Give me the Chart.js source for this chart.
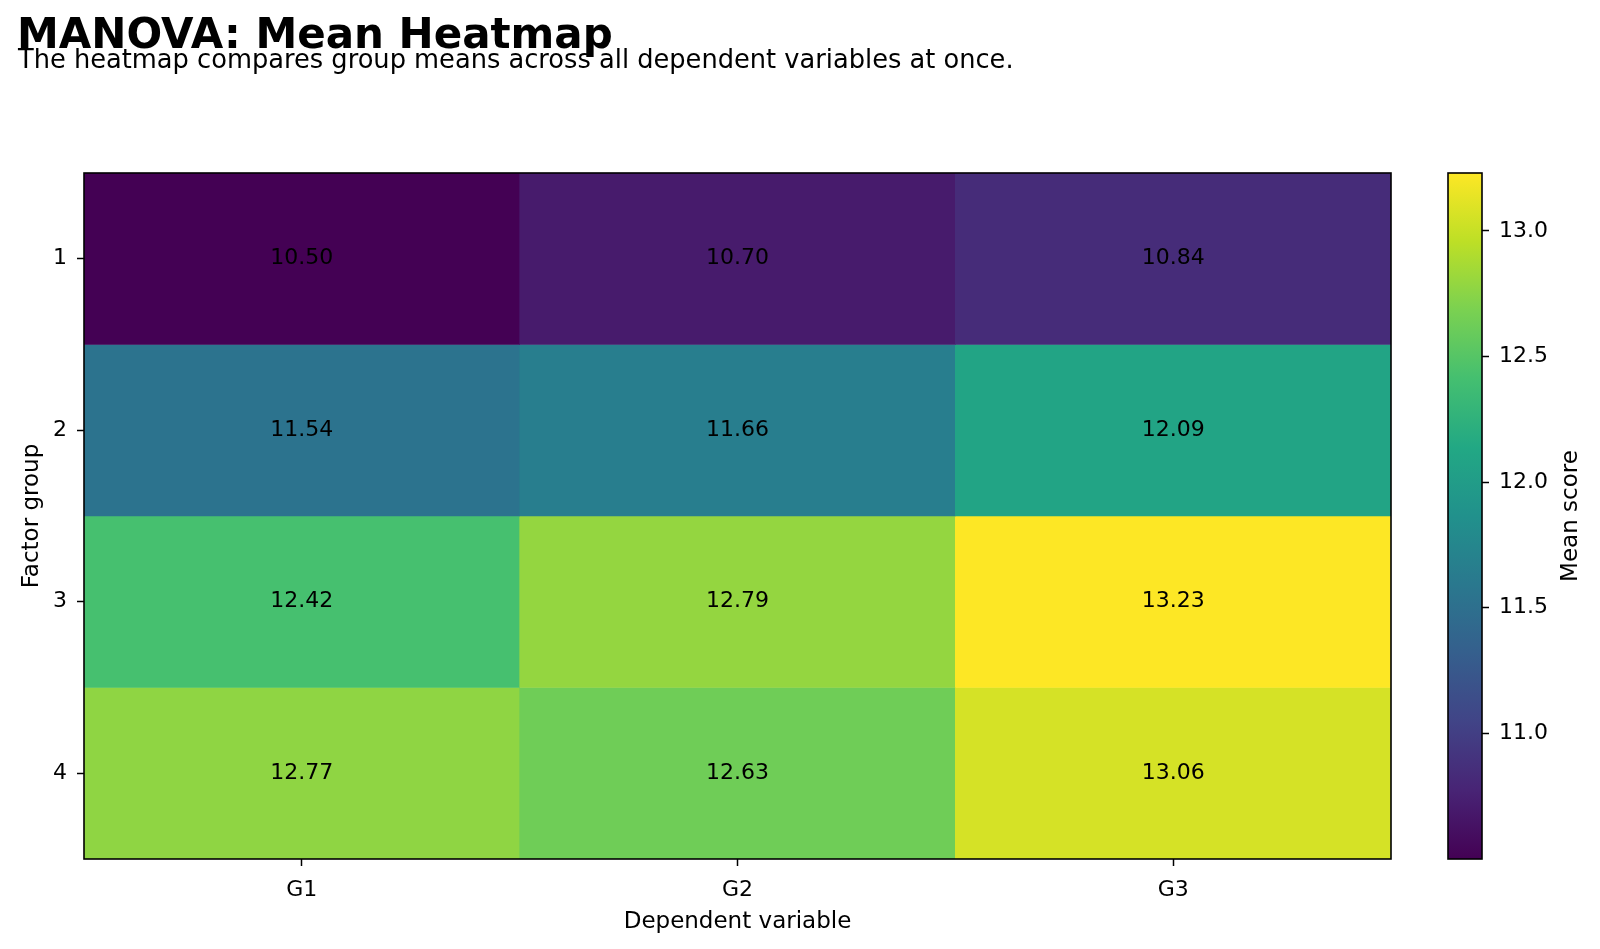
<!DOCTYPE html>
<html>
<head>
<meta charset="utf-8">
<script src="https://cdn.jsdelivr.net/npm/chart.js@4.4.0/dist/chart.umd.min.js"></script>
<style>
  html, body { margin: 0; padding: 0; background: #fff; }
  #wrap { position: relative; width: 1600px; height: 949px; overflow: hidden; }
  #heat { position: absolute; left: 0; top: 0; }
  #cbar { position: absolute; left: 1420px; top: 0; }
</style>
</head>
<body>
<div id="wrap">
  <canvas id="heat" width="1420" height="949"></canvas>
  <canvas id="cbar" width="180" height="949"></canvas>
</div>
<script>
// data
var groups = ['1', '2', '3', '4'];
var variables = ['G1', 'G2', 'G3'];
var meansG1 = [10.50, 11.54, 12.42, 12.77];
var meansG2 = [10.70, 11.66, 12.79, 12.63];
var meansG3 = [10.84, 12.09, 13.23, 13.06];
var cbarTicks = [11.0, 11.5, 12.0, 12.5, 13.0];

var title = 'MANOVA: Mean Heatmap';
var subtitle = 'The heatmap compares group means across all dependent variables at once.';

var means = [meansG1, meansG2, meansG3];
var allVals = [].concat(meansG1, meansG2, meansG3);
var vmin = Math.min.apply(null, allVals);
var vmax = Math.max.apply(null, allVals);

var FONT = '"DejaVu Sans", sans-serif';
Chart.defaults.font.family = FONT;
Chart.defaults.color = '#000';

// viridis colormap, linear between stops
var viridisStops = ['#440154', '#482475', '#414487', '#355f8d', '#2a788e', '#21918c',
                    '#22a884', '#44bf70', '#7ad151', '#bddf26', '#fde725'];
function hexRgb(h) {
    return [parseInt(h.substr(1, 2), 16), parseInt(h.substr(3, 2), 16), parseInt(h.substr(5, 2), 16)];
}
function viridis(t) {
    t = Math.max(0, Math.min(1, t));
    var p = t * (viridisStops.length - 1);
    var i = Math.min(Math.floor(p), viridisStops.length - 2);
    var f = p - i;
    var a = hexRgb(viridisStops[i]), b = hexRgb(viridisStops[i + 1]);
    var c = a.map(function (v, k) { return Math.round(v + (b[k] - v) * f); });
    return 'rgb(' + c.join(',') + ')';
}
function colorFor(v) { return viridis((v - vmin) / (vmax - vmin)); }

// one dataset per factor group (row), one cell per dependent variable
var datasets = groups.map(function (g, i) {
    return {
        label: g,
        data: variables.map(function () { return [i + 0.5, i + 1.5]; }),
        backgroundColor: variables.map(function (v, j) { return colorFor(means[j][i]); }),
        borderWidth: 0,
        grouped: false,
        barPercentage: 1,
        categoryPercentage: 1
    };
});

var heatText = {
    id: 'heatText',
    afterDatasetsDraw: function (chart) {
        var ctx = chart.ctx, x = chart.scales.x, y = chart.scales.y;
        ctx.save();
        ctx.font = '22px ' + FONT;
        ctx.fillStyle = '#000';
        ctx.textAlign = 'center';
        ctx.textBaseline = 'middle';
        groups.forEach(function (g, i) {
            variables.forEach(function (v, j) {
                ctx.fillText(means[j][i].toFixed(2), x.getPixelForValue(j), y.getPixelForValue(i + 1));
            });
        });
        ctx.restore();
    },
    afterDraw: function (chart) {
        var ctx = chart.ctx, a = chart.chartArea;
        ctx.save();
        ctx.strokeStyle = '#000';
        ctx.lineWidth = 1.6;
        ctx.strokeRect(a.left, a.top, a.right - a.left, a.bottom - a.top);
        // titles
        ctx.fillStyle = '#000';
        ctx.textAlign = 'left';
        ctx.textBaseline = 'alphabetic';
        ctx.font = 'bold 42px ' + FONT;
        ctx.fillText(title, 17, 48);
        ctx.font = '25.7px ' + FONT;
        ctx.fillText(subtitle, 18, 68);
        ctx.restore();
    }
};

new Chart(document.getElementById('heat').getContext('2d'), {
    type: 'bar',
    data: { labels: variables, datasets: datasets },
    options: {
        responsive: false,
        animation: false,
        devicePixelRatio: 1,
        layout: { padding: { top: 173, right: 29, left: 0, bottom: 0 } },
        plugins: { legend: { display: false }, tooltip: { enabled: false } },
        scales: {
            x: {
                type: 'category',
                offset: true,
                border: { display: false },
                grid: { offset: false, drawOnChartArea: false, tickLength: 7, tickColor: '#000', tickWidth: 1.5 },
                ticks: { font: { size: 22 }, padding: 11, color: '#000' },
                title: { display: true, text: 'Dependent variable', font: { size: 23 }, padding: { top: 0, bottom: 13 }, color: '#000' },
                afterFit: function (s) { s.height = 90; }
            },
            y: {
                type: 'linear',
                reverse: true,
                min: 0.5,
                max: 4.5,
                border: { display: false },
                grid: { drawOnChartArea: false, tickLength: 7, tickColor: '#000', tickWidth: 1.5 },
                ticks: {
                    font: { size: 22 }, padding: 10, color: '#000',
                    callback: function (v) { return groups[v - 1]; }
                },
                afterBuildTicks: function (s) {
                    s.ticks = groups.map(function (g, i) { return { value: i + 1 }; });
                },
                title: { display: true, text: 'Factor group', font: { size: 23 }, padding: { top: 18, bottom: 0 }, color: '#000' },
                afterFit: function (s) { s.width = 84; }
            }
        }
    },
    plugins: [heatText]
});

// colorbar
var cbarDraw = {
    id: 'cbarDraw',
    afterDraw: function (chart) {
        var ctx = chart.ctx, a = chart.chartArea;
        ctx.save();
        ctx.strokeStyle = '#000';
        ctx.lineWidth = 1.6;
        ctx.strokeRect(a.left, a.top, a.right - a.left, a.bottom - a.top);
        ctx.translate(151, (a.top + a.bottom) / 2);
        ctx.rotate(-Math.PI / 2);
        ctx.fillStyle = '#000';
        ctx.font = '23px ' + FONT;
        ctx.textAlign = 'center';
        ctx.textBaseline = 'middle';
        ctx.fillText('Mean score', 0, 0);
        ctx.restore();
    }
};

new Chart(document.getElementById('cbar').getContext('2d'), {
    type: 'bar',
    data: {
        labels: [''],
        datasets: [{
            data: [[vmin, vmax]],
            borderWidth: 0,
            barPercentage: 1,
            categoryPercentage: 1,
            backgroundColor: function (c) {
                var chart = c.chart, a = chart.chartArea;
                if (!a) return null;
                var y = chart.scales.y;
                var g = chart.ctx.createLinearGradient(0, y.getPixelForValue(vmin), 0, y.getPixelForValue(vmax));
                viridisStops.forEach(function (s, k) { g.addColorStop(k / (viridisStops.length - 1), s); });
                return g;
            }
        }]
    },
    options: {
        responsive: false,
        animation: false,
        devicePixelRatio: 1,
        layout: { padding: { top: 173, left: 28, bottom: 90, right: 0 } },
        plugins: { legend: { display: false }, tooltip: { enabled: false } },
        scales: {
            x: { display: false },
            y: {
                position: 'right',
                min: vmin,
                max: vmax,
                border: { display: false },
                grid: { drawOnChartArea: false, tickLength: 7, tickColor: '#000', tickWidth: 1.5 },
                ticks: {
                    font: { size: 22 }, padding: 10, color: '#000',
                    callback: function (v) { return v.toFixed(1); }
                },
                afterBuildTicks: function (s) {
                    s.ticks = cbarTicks.map(function (v) { return { value: v }; });
                },
                afterFit: function (s) { s.width = 118; }
            }
        }
    },
    plugins: [cbarDraw]
});
</script>
</body>
</html>
